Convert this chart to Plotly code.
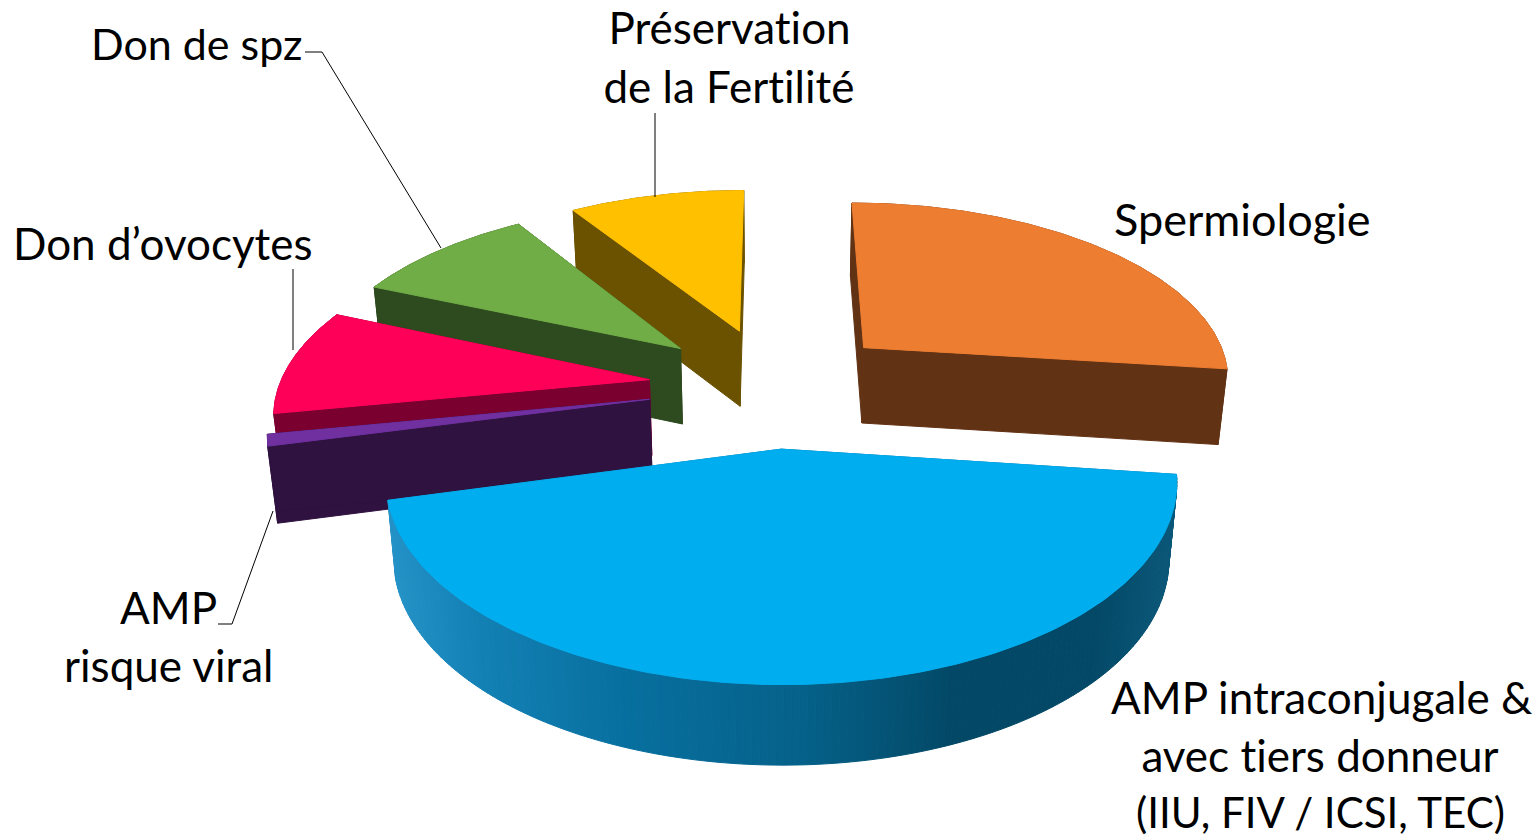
import numpy as np
import plotly.graph_objects as go

labels = ["Spermiologie", "AMP intraconjugale & avec tiers donneur (IIU, FIV / ICSI, TEC)",
          "AMP risque viral", "Don d’ovocytes", "Don de spz", "Préservation de la Fertilité"]
values = [27, 44, 1, 9.4, 9.5, 9.1]
top_colors = ["#ED7D31", "#00ADEF", "#7030A0", "#FF0059", "#70AD47", "#FFC000"]
side_colors = ["#623214", "#0A6D9A", "#2F1240", "#7A0030", "#2E4A1F", "#6B5200"]
paint_order = [5, 4, 3, 2, 0, 1]

# pie geometry (projection of a tilted, exploded pie to the page)
START = 0.0
CX, CY = 773.0, 386.0
R, E, DEPTH = 370.0, 125.0, 76.0
TILT, PERSP, CONVERGE = 0.48, 0.000414, 0.00026


def project(X, Y, Z=0.0):
    w = 1.0 / (1.0 + PERSP * Y)
    return CX + X * w * (1 - CONVERGE * Z), CY - TILT * Y * w + Z * w ** 0.25


def arc_pts(a0, a1, mid, n=160):
    a = np.radians(np.linspace(a0, a1, n))
    ox, oy = E * np.sin(np.radians(mid)), E * np.cos(np.radians(mid))
    return ox + R * np.sin(a), oy + R * np.cos(a), ox, oy


def poly(fig, xs, ys, color):
    fig.add_trace(go.Scatter(x=list(xs) + [xs[0]], y=list(ys) + [ys[0]], mode="lines", fill="toself",
                             fillcolor=color, line=dict(color=color, width=1),
                             hoverinfo="skip", showlegend=False))


def wall_color(sx):
    stops_x = [385, 470, 620, 800, 960, 1100, 1175]
    r = np.interp(sx, stops_x, [38, 20, 8, 6, 3, 4, 12])
    g = np.interp(sx, stops_x, [148, 130, 112, 98, 72, 74, 88])
    b = np.interp(sx, stops_x, [200, 182, 160, 138, 102, 104, 122])
    return f"rgb({int(r)},{int(g)},{int(b)})"


fig = go.Figure()
angles = START + np.concatenate([[0], np.cumsum(values)]) * 360.0 / sum(values)
for i in paint_order:
    a0, a1 = angles[i], angles[i + 1]
    mid = (a0 + a1) / 2
    X, Y, ox, oy = arc_pts(a0, a1, mid)
    # radial faces
    for ex, ey in [(X[0], Y[0]), (X[-1], Y[-1])]:
        p = [project(ox, oy), project(ex, ey), project(ex, ey, DEPTH), project(ox, oy, DEPTH)]
        poly(fig, [q[0] for q in p], [q[1] for q in p], side_colors[i])
    # outer wall
    if i == 1:
        for k in range(0, len(X) - 1):
            x0, y0 = project(X[k], Y[k])
            x1, y1 = project(X[k + 1], Y[k + 1])
            x2, y2 = project(X[k + 1], Y[k + 1], DEPTH)
            x3, y3 = project(X[k], Y[k], DEPTH)
            poly(fig, [x0, x1, x2, x3], [y0, y1, y2, y3], wall_color((x0 + x1) / 2))
    else:
        tx, ty = project(X, Y)
        bx, by = project(X, Y, DEPTH)
        poly(fig, list(tx) + list(bx[::-1]), list(ty) + list(by[::-1]), side_colors[i])
    # top
    tx, ty = project(X, Y)
    ax, ay = project(ox, oy)
    poly(fig, [ax] + list(tx), [ay] + list(ty), top_colors[i])

LEADERS = [[(305, 52), (322, 52), (441, 248)],
           [(655, 113), (655, 197)],
           [(293, 269), (293, 350)],
           [(218, 624), (232, 624), (273, 511)]]
shapes = []
for line in LEADERS:
    for (a, b), (c, d) in zip(line[:-1], line[1:]):
        shapes.append(dict(type="line", xref="x", yref="y", x0=a, y0=b, x1=c, y1=d,
                           line=dict(color="#000000", width=1)))

TEXTS = [("Préservation", 729, 27, 44),
         ("de la Fertilité", 729, 86, 44),
         ("Don de spz", 196, 43, 43),
         ("Spermiologie", 1242, 219, 45),
         ("Don d’ovocytes", 163, 243, 44),
         ("AMP", 168, 607, 44),
         ("risque viral", 168, 665, 44),
         ("AMP intraconjugale &", 1321, 697, 44),
         ("avec tiers donneur", 1320, 755, 44),
         ("(IIU, FIV / ICSI, TEC)", 1320, 812, 42)]
annotations = [dict(text=t, x=x, y=y, xref="x", yref="y", showarrow=False, xanchor="center", yanchor="middle",
                    align="center", font=dict(family="Lato", size=s, color="#000000")) for t, x, y, s in TEXTS]

fig.update_layout(width=1539, height=837, margin=dict(l=0, r=0, t=0, b=0),
                  paper_bgcolor="white", plot_bgcolor="white", showlegend=False,
                  shapes=shapes, annotations=annotations,
                  xaxis=dict(range=[0, 1539], visible=False, fixedrange=True),
                  yaxis=dict(range=[837, 0], visible=False, fixedrange=True))
POST = ("document.body.style.margin='0';"
        "var s=document.createElement('style');"
        "s.textContent='text{font-variant-ligatures:none !important;"
        "font-feature-settings:\"liga\" 0,\"clig\" 0 !important}';"
        "document.head.appendChild(s);")
fig.write_html("out.html", post_script=POST, config=dict(displayModeBar=False))
